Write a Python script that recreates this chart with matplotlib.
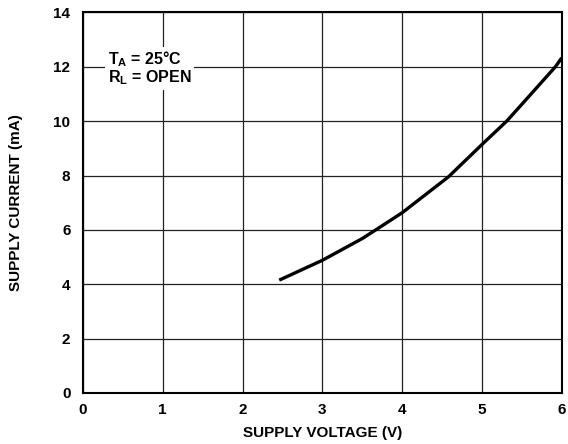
import matplotlib
matplotlib.use('Agg')
import matplotlib.pyplot as plt

# Supply current vs supply voltage, TA = 25 C, RL open
supply_voltage = [2.46, 3.0, 3.5, 3.67, 4.0, 4.58, 5.0, 5.31, 5.5, 5.92, 6.0]
supply_current = [4.15, 4.88, 5.68, 6.0, 6.63, 7.95, 9.14, 10.0, 10.62, 12.0, 12.33]

x_ticks = [0, 1, 2, 3, 4, 5, 6]
y_ticks = [0, 2, 4, 6, 8, 10, 12, 14]

plt.rcParams['font.family'] = ['Liberation Sans', 'DejaVu Sans']
plt.rcParams['font.weight'] = 'bold'
plt.rcParams['mathtext.fontset'] = 'custom'
plt.rcParams['mathtext.rm'] = 'Liberation Sans:bold'
plt.rcParams['mathtext.it'] = 'Liberation Sans:bold'
plt.rcParams['mathtext.bf'] = 'Liberation Sans:bold'

fig = plt.figure(figsize=(5.68, 4.44), dpi=100)
ax = fig.add_axes([0.146, 0.115, 0.843, 0.857])

ax.plot(supply_voltage, supply_current, color='black', linewidth=2.4,
        solid_capstyle='butt', zorder=3)

ax.set_xlim(0, 6)
ax.set_ylim(0, 14)
ax.set_xticks(x_ticks)
ax.set_yticks(y_ticks)
ax.grid(True, color='#222222', linewidth=0.9)
ax.set_axisbelow(True)
ax.tick_params(axis='x', length=0, labelsize=11, pad=7)
ax.tick_params(axis='y', length=0, labelsize=11, pad=9)
for lbl in ax.get_xticklabels() + ax.get_yticklabels():
    lbl.set_fontweight('bold')

for sp in ax.spines.values():
    sp.set_linewidth(1.5)
    sp.set_color('black')

ax.set_xlabel('SUPPLY VOLTAGE (V)', fontsize=11, fontweight='bold', labelpad=7)
ax.set_ylabel('SUPPLY CURRENT (mA)', fontsize=11, fontweight='bold', labelpad=22)

ax.text(0.31, 11.95, 'T$_A$ = 25°C\nR$_L$ = OPEN', fontsize=11.5, fontweight='bold',
        ha='left', va='center', linespacing=0.95, zorder=4,
        bbox=dict(facecolor='white', edgecolor='none', pad=2))

fig.savefig('out.png', dpi=100, facecolor='white')
